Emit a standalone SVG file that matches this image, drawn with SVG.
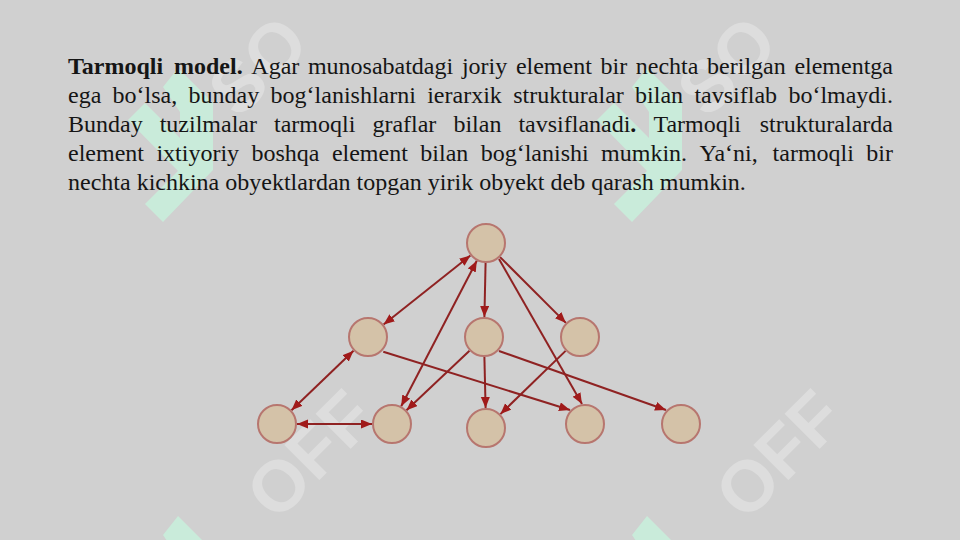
<svg xmlns="http://www.w3.org/2000/svg" width="960" height="540" viewBox="0 0 960 540">
<defs>
<style>
.bg{fill:#d0d0d0}
.logo{fill:#c9ebda}
.wm{font-family:"Liberation Sans",Arial,sans-serif;font-weight:bold;font-size:72px;fill:#ffffff;fill-opacity:0.28}
.para{font-family:"Liberation Serif","Times New Roman",serif;font-size:24px;fill:#151515}
.b{font-weight:bold}
.node circle{fill:#d4c2a8;stroke:#b7766f;stroke-width:2}
.edge{stroke:#8f2222;stroke-width:2;fill:none}
</style>
<marker id="ah" markerUnits="userSpaceOnUse" markerWidth="12" markerHeight="10" refX="11" refY="4.5" orient="auto-start-reverse">
<path d="M0,0 L11,4.5 L0,9 Z" fill="#a01a1a"/>
</marker>
<path id="logoShape" d="M178,68 L213,103 L213,170 L163,222 L145,204 L178,171 L128,120 L145,103 L180,138 L180,112 L163,87 Z"/>
</defs>
<rect class="bg" x="0" y="0" width="960" height="540"/>

<g id="watermark">
<use href="#logoShape" class="logo"/>
<use href="#logoShape" class="logo" transform="translate(469,0)"/>
<use href="#logoShape" class="logo" transform="translate(0,448)"/>
<use href="#logoShape" class="logo" transform="translate(469,448)"/>
<text class="wm" transform="translate(276.4,523) rotate(-45)">O</text>
<text class="wm" transform="translate(316,483.4) rotate(-45)">F</text>
<text class="wm" transform="translate(347.2,452.2) rotate(-45)">F</text>
<text class="wm" transform="translate(745.4,523) rotate(-45)">O</text>
<text class="wm" transform="translate(785,483.4) rotate(-45)">F</text>
<text class="wm" transform="translate(816.2,452.2) rotate(-45)">F</text>
<text class="wm" transform="translate(238.5,119.9) rotate(-45)">S</text>
<text class="wm" transform="translate(272.4,86) rotate(-45)">O</text>
<text class="wm" transform="translate(707.5,119.9) rotate(-45)">S</text>
<text class="wm" transform="translate(741.4,86) rotate(-45)">O</text>
</g>

<g id="paragraph" class="para">
<text y="74"><tspan class="b" x="68">Tarmoqli</tspan><tspan class="b" x="174">model.</tspan><tspan x="251.3">Agar</tspan><tspan x="307.9">munosabatdagi</tspan><tspan x="461.9">joriy</tspan><tspan x="515.9">element</tspan><tspan x="600.5">bir</tspan><tspan x="635.8">nechta</tspan><tspan x="707.1">berilgan</tspan><tspan x="794.4">elementga</tspan></text>
<text y="103"><tspan x="68">ega</tspan><tspan x="112.6">bo‘lsa,</tspan><tspan x="188.6">bunday</tspan><tspan x="270.6">bog‘lanishlarni</tspan><tspan x="427.2">ierarxik</tspan><tspan x="513.2">strukturalar</tspan><tspan x="635.1">bilan</tspan><tspan x="694.4">tavsiflab</tspan><tspan x="788.4">bo‘lmaydi.</tspan></text>
<text y="132"><tspan x="68">Bunday</tspan><tspan x="159.7">tuzilmalar</tspan><tspan x="274">tarmoqli</tspan><tspan x="372.4">graflar</tspan><tspan x="453.4">bilan</tspan><tspan x="518.4">tavsiflanadi</tspan><tspan class="b">.</tspan><tspan x="653.4">Tarmoqli</tspan><tspan x="759.7">strukturalarda</tspan></text>
<text y="161"><tspan x="68">element</tspan><tspan x="156.4">ixtiyoriy</tspan><tspan x="251.5">boshqa</tspan><tspan x="331.9">element</tspan><tspan x="420.3">bilan</tspan><tspan x="480.7">bog‘lanishi</tspan><tspan x="601.1">mumkin.</tspan><tspan x="699.5">Ya‘ni,</tspan><tspan x="772.6">tarmoqli</tspan><tspan x="866.3">bir</tspan></text>
<text y="190" x="68">nechta kichkina obyektlardan topgan yirik obyekt deb qarash mumkin.</text>
</g>

<g id="connectors" class="edge">
<line x1="470.4" y1="255.5" x2="383.6" y2="324.5" marker-start="url(#ah)" marker-end="url(#ah)"/>
<line x1="476.8" y1="260.7" x2="401.2" y2="406.3" marker-start="url(#ah)" marker-end="url(#ah)"/>
<line x1="485.6" y1="262" x2="484.4" y2="317" marker-end="url(#ah)"/>
<line x1="500.1" y1="257.1" x2="565.9" y2="322.9" marker-end="url(#ah)"/>
<line x1="499" y1="259" x2="582" y2="404" marker-end="url(#ah)"/>
<line x1="383.3" y1="351.7" x2="570" y2="410" marker-end="url(#ah)"/>
<line x1="353.5" y1="350.8" x2="291.5" y2="410.2" marker-start="url(#ah)" marker-end="url(#ah)"/>
<line x1="297" y1="424" x2="372" y2="424" marker-start="url(#ah)" marker-end="url(#ah)"/>
<line x1="469.5" y1="350.7" x2="406.5" y2="410.3" marker-end="url(#ah)"/>
<line x1="484.4" y1="357" x2="485.6" y2="408" marker-end="url(#ah)"/>
<line x1="499" y1="351" x2="666" y2="410" marker-end="url(#ah)"/>
<line x1="565.6" y1="350.9" x2="500.4" y2="414.1" marker-end="url(#ah)"/>
</g>

<g id="node-top" class="node"><circle cx="486" cy="243" r="19"/></g>
<g id="node-mid-left" class="node"><circle cx="368" cy="337" r="19"/></g>
<g id="node-mid-center" class="node"><circle cx="484" cy="337" r="19"/></g>
<g id="node-mid-right" class="node"><circle cx="580" cy="337" r="19"/></g>
<g id="node-bot-1" class="node"><circle cx="277" cy="424" r="19"/></g>
<g id="node-bot-2" class="node"><circle cx="392" cy="424" r="19"/></g>
<g id="node-bot-3" class="node"><circle cx="486" cy="428" r="19"/></g>
<g id="node-bot-4" class="node"><circle cx="585" cy="424" r="19"/></g>
<g id="node-bot-5" class="node"><circle cx="681" cy="424" r="19"/></g>
</svg>
